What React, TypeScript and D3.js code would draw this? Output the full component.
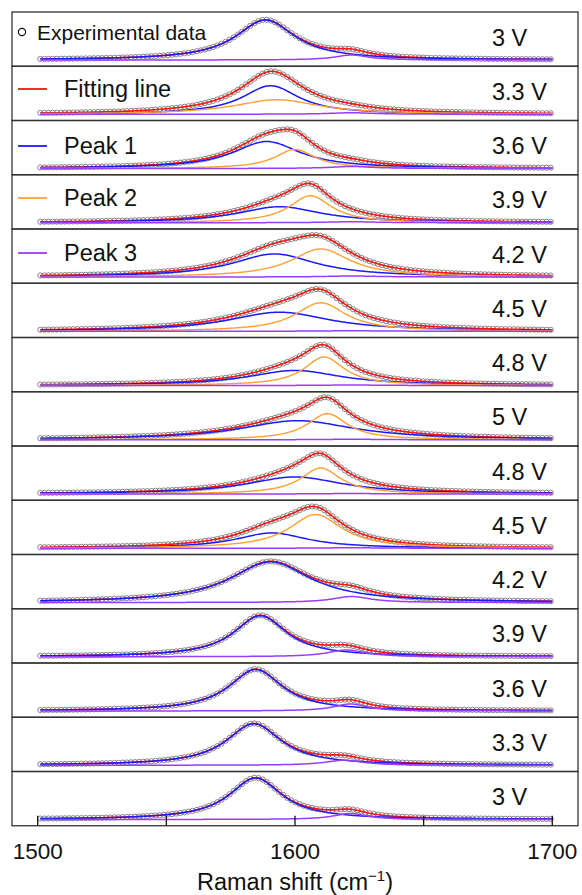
import React from "react";
import * as d3 from "d3";

// Bias labels, top panel to bottom panel
const voltages = ["3 V", "3.3 V", "3.6 V", "3.9 V", "4.2 V", "4.5 V", "4.8 V", "5 V", "4.8 V", "4.5 V", "4.2 V", "3.9 V", "3.6 V", "3.3 V", "3 V"];

// Lorentzian components per spectrum: centre (cm-1), half width (cm-1), amplitude (a.u.)
const peak1Center = [1588.5, 1590.5, 1589, 1594, 1592, 1594, 1600, 1601, 1600, 1591, 1590.5, 1586.5, 1584.7, 1584, 1584.7];
const peak1Width = [14, 13.5, 16, 20, 20, 24, 22, 27, 23, 17, 19, 12.5, 12.6, 13, 12.5];
const peak1Amp = [0.959, 0.683, 0.647, 0.384, 0.552, 0.456, 0.36, 0.456, 0.408, 0.367, 0.976, 0.983, 0.995, 0.995, 0.995];

const peak2Center = [1600, 1593, 1600, 1606, 1610, 1610, 1611.3, 1612.6, 1610, 1608, 1600, 1600, 1600, 1600, 1600];
const peak2Width = [10, 20, 9.5, 10, 14, 12, 9.5, 9.5, 9.5, 12.5, 10, 10, 10, 10, 10];
const peak2Amp = [0, 0.348, 0.456, 0.647, 0.671, 0.683, 0.683, 0.624, 0.624, 0.808, 0, 0, 0, 0, 0];

const peak3Center = [1622, 1622, 1622, 1622, 1622, 1622, 1622, 1622, 1622, 1622, 1622, 1620, 1621.5, 1619, 1621.5];
const peak3Width = [8, 10, 10, 12, 12, 12, 12, 12, 12, 12, 9, 9, 8, 9, 8];
const peak3Amp = [0.12, 0.036, 0.048, 0.024, 0.024, 0.012, 0.012, 0.012, 0.012, 0.012, 0.144, 0.161, 0.168, 0.12, 0.144];

// Measured Raman shift channels (cm-1)
const shiftStart = 1501;
const shiftEnd = 1700;
const shiftStep = 1.6;

// Axis ticks
const tickValues = [1500, 1550, 1600, 1650, 1700];
const tickLabels = [1500, 1600, 1700];

// Legend entries
const legendLabels = ["Experimental data", "Fitting line", "Peak 1", "Peak 2", "Peak 3"];

const COLORS = {
  fit: "#ff1414",
  p1: "#1a1aff",
  p2: "#ffa033",
  p3: "#9a3cff",
};

const W = 582;
const H = 895;
const left = 12;
const right = 578;
const top = 12;
const bottom = 825.75;
const n = voltages.length;
const panelH = (bottom - top) / n;
const FONT = "'Liberation Sans', Arial, Helvetica, sans-serif";

const lorentz = (w: number, c: number, g: number, a: number) => a / (1 + ((w - c) / g) ** 2);

export default function App() {
  const x = d3.scaleLinear().domain([1490, 1710]).range([left, right]);
  const y = d3.scaleLinear().domain([-0.15, 1.15]).range([panelH, 0]);

  const channels = d3.range(shiftStart, shiftEnd + 0.001, shiftStep);
  const fine = d3.range(shiftStart, shiftEnd + 0.001, 0.5);

  const line = d3
    .line<[number, number]>()
    .x((d) => x(d[0]))
    .y((d) => y(d[1]))
    .curve(d3.curveLinear);

  const legendY = [32, 89, 146, 198, 253];
  const legendColors = [null, COLORS.fit, COLORS.p1, COLORS.p2, COLORS.p3];

  return (
    <svg
      width={W}
      height={H}
      viewBox={`0 0 ${W} ${H}`}
      style={{ position: "absolute", left: 0, top: 0, background: "#fff" }}
    >
      <rect x={0} y={0} width={W} height={H} fill="#fff" />
      {voltages.map((label, i) => {
        const c1 = (w: number) => lorentz(w, peak1Center[i], peak1Width[i], peak1Amp[i]);
        const c2 = (w: number) => lorentz(w, peak2Center[i], peak2Width[i], peak2Amp[i]);
        const c3 = (w: number) => lorentz(w, peak3Center[i], peak3Width[i], peak3Amp[i]);
        const total = (w: number) => c1(w) + c2(w) + c3(w);
        const y0 = top + i * panelH;
        return (
          <g key={i} transform={`translate(0,${y0})`}>
            {channels.map((w, k) => (
              <circle
                key={k}
                cx={x(w)}
                cy={y(total(w))}
                r={2.6}
                fill="none"
                stroke="#7a7a7a"
                strokeWidth={0.9}
              />
            ))}
            <path d={line(fine.map((w) => [w, total(w)]))!} fill="none" stroke={COLORS.fit} strokeWidth={1.6} />
            <path d={line(fine.map((w) => [w, c1(w)]))!} fill="none" stroke={COLORS.p1} strokeWidth={1.5} />
            {peak2Amp[i] > 0 && (
              <path d={line(fine.map((w) => [w, c2(w)]))!} fill="none" stroke={COLORS.p2} strokeWidth={1.4} />
            )}
            <path d={line(fine.map((w) => [w, c3(w)]))!} fill="none" stroke={COLORS.p3} strokeWidth={1.5} />
            <text
              x={492}
              y={25.5}
              dominantBaseline="central"
              fontFamily={FONT}
              fontSize={23.5}
              fill="#111"
            >
              {label}
            </text>
            <rect x={left} y={0} width={right - left} height={panelH} fill="none" stroke="#333" strokeWidth={1.3} />
          </g>
        );
      })}

      {/* legend */}
      {legendLabels.map((lab, k) => (
        <g key={lab}>
          {k === 0 ? (
            <circle cx={22} cy={legendY[k]} r={3.6} fill="none" stroke="#111" strokeWidth={1.2} />
          ) : (
            <line x1={18} x2={47} y1={legendY[k]} y2={legendY[k]} stroke={legendColors[k]!} strokeWidth={1.8} />
          )}
          <text
            x={k === 0 ? 37 : 64}
            y={legendY[k]}
            dominantBaseline="central"
            fontFamily={FONT}
            fontSize={k === 0 ? 21 : 23.5}
            fill="#111"
          >
            {lab}
          </text>
        </g>
      ))}

      {/* x axis */}
      {tickValues.map((t) => (
        <line key={t} x1={x(t)} x2={x(t)} y1={bottom} y2={bottom - 10} stroke="#111" strokeWidth={1.3} />
      ))}
      {tickLabels.map((t) => (
        <text key={t} x={x(t)} y={859} textAnchor="middle" fontFamily={FONT} fontSize={22.5} fill="#111">
          {t}
        </text>
      ))}
      <text x={x(1600)} y={890} textAnchor="middle" fontFamily={FONT} fontSize={23.5} fill="#111">
        Raman shift (cm
        <tspan fontSize={15} dy={-9}>
          −1
        </tspan>
        <tspan dy={9}>)</tspan>
      </text>
    </svg>
  );
}
